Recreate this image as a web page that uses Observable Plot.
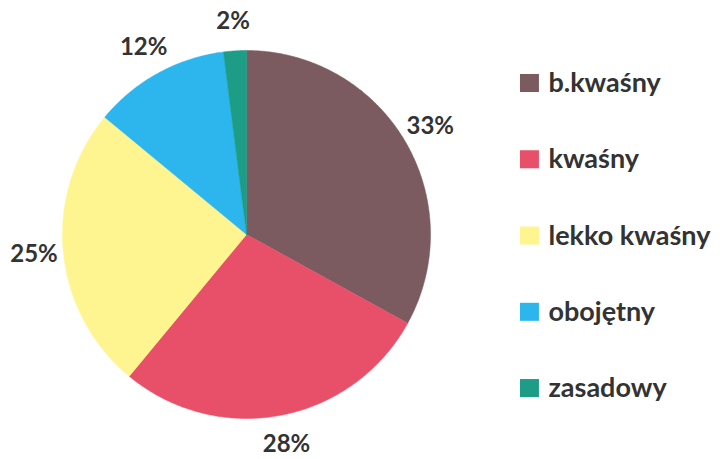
<!DOCTYPE html>
<html><head><meta charset="utf-8">
<script src="https://cdn.jsdelivr.net/npm/d3@7"></script>
<script src="https://cdn.jsdelivr.net/npm/@observablehq/plot@0.6"></script>
<style>body{margin:0;background:#fff}</style></head>
<body><div id="chart"></div>
<script>
const categories = ["b.kwaśny", "kwaśny", "lekko kwaśny", "obojętny", "zasadowy"];
const values = [33, 28, 25, 12, 2];
const labels = ["33%", "28%", "25%", "12%", "2%"];
const colors = ["#7b5b5f", "#e8506a", "#fff590", "#2db6ee", "#1d9c86"];

const W = 720, H = 459, CX = 246, CY = 234, R = 184;
const total = d3.sum(values);
let acc = 0;
const slices = categories.map((c, i) => {
  const a0 = acc / total * 2 * Math.PI; acc += values[i];
  const a1 = acc / total * 2 * Math.PI;
  const m = (a0 + a1) / 2;
  return {c, i, a0, a1, label: labels[i], lx: 1.16 * Math.sin(m), ly: 1.16 * Math.cos(m)};
});
const poly = s => {
  const n = Math.max(2, Math.ceil((s.a1 - s.a0) / (Math.PI / 360)));
  const p = [{x: 0, y: 0}];
  for (let k = 0; k <= n; k++) { const a = s.a0 + (s.a1 - s.a0) * k / n; p.push({x: Math.sin(a), y: Math.cos(a)}); }
  p.push({x: 0, y: 0});
  return p;
};
const legend = categories.map((c, i) => ({c, i, y: (CY - 83) / R - i * 0.4145}));
const font = "Lato, 'Open Sans', sans-serif";

const chart = Plot.plot({
  width: W, height: H, margin: 0,
  x: {domain: [-CX / R, (W - CX) / R], range: [0, W], axis: null},
  y: {domain: [(CY - H) / R, CY / R], range: [H, 0], axis: null},
  style: {background: "#fff"},
  marks: [
    ...slices.map(s => Plot.line(poly(s), {x: "x", y: "y", fill: colors[s.i], stroke: colors[s.i], strokeWidth: 0.5})),
    Plot.text(slices, {x: "lx", y: "ly", text: "label", fontSize: 24, fontWeight: "bold", fill: "#333", fontFamily: font}),
    Plot.rect(legend, {x1: 1.489, x2: 1.592, y1: d => d.y - 0.049, y2: d => d.y + 0.049, fill: d => colors[d.i]}),
    Plot.text(legend, {x: 1.641, y: "y", text: "c", textAnchor: "start", fontSize: 27, fontWeight: "bold", fill: "#333", fontFamily: font})
  ]
});
document.getElementById("chart").appendChild(chart);
</script>
</body></html>
